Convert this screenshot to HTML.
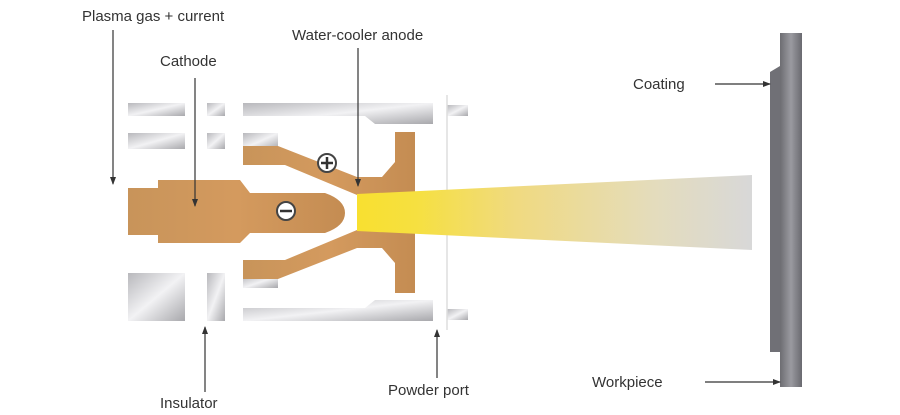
<!DOCTYPE html>
<html><head><style>
body{margin:0;background:#fff;}
svg text{font-family:"Liberation Sans",sans-serif;font-size:15px;fill:#333;}
</style></head><body>
<svg width="900" height="410" viewBox="0 0 900 410">
<defs>
<linearGradient id="met" x1="0" y1="0" x2="1" y2="1">
<stop offset="0" stop-color="#b8b8bc"/><stop offset="0.5" stop-color="#f2f2f4"/><stop offset="1" stop-color="#a8a8ac"/></linearGradient>
<linearGradient id="cu" x1="0" y1="0" x2="1" y2="0">
<stop offset="0" stop-color="#c8945a"/><stop offset="0.5" stop-color="#d49a5e"/><stop offset="1" stop-color="#c48c52"/></linearGradient>
<linearGradient id="pl" x1="0" y1="0" x2="1" y2="0">
<stop offset="0" stop-color="#f8e030"/><stop offset="0.15" stop-color="#f6e040"/><stop offset="0.4" stop-color="#f0da80"/><stop offset="0.75" stop-color="#e4dcbc"/><stop offset="1" stop-color="#d8d8d8"/></linearGradient>
<linearGradient id="wp" x1="0" y1="0" x2="1" y2="0">
<stop offset="0" stop-color="#6d6d72"/><stop offset="0.5" stop-color="#9a9aa0"/><stop offset="1" stop-color="#6a6a70"/></linearGradient>
<marker id="ah" markerWidth="8" markerHeight="8" refX="7" refY="4" orient="auto" markerUnits="userSpaceOnUse"><path d="M0,1 L8,4 L0,7z" fill="#333"/></marker>
</defs>
<g fill="url(#met)">
<rect x="128" y="103" width="57" height="13"/><rect x="207" y="103" width="18" height="13"/>
<path d="M243,103 H433 V124 H375 L365,116 H243z"/>
<rect x="447" y="105" width="21" height="11"/>
<rect x="128" y="133" width="57" height="16"/><rect x="207" y="133" width="18" height="16"/><rect x="243" y="133" width="35" height="16"/>
<rect x="128" y="273" width="57" height="48"/><rect x="207" y="273" width="18" height="48"/><rect x="243" y="276" width="35" height="12"/>
<path d="M243,308 H365 L375,300 H433 V321 H243z"/>
<rect x="447" y="309" width="21" height="11"/>
</g>
<line x1="447" y1="95" x2="447" y2="330" stroke="#ddd" stroke-width="1.5"/>
<g fill="url(#cu)">
<path d="M243,146 H278 L357,177 H382 L395,162 V132 H415 V293 H395 V263 L382,248 H357 L278,279 H243 V260 H285 L357,230 H395 V195 H357 L285,165 H243z"/>
</g>
<path d="M357,194 L752,175 L752,250 L357,231z" fill="url(#pl)"/>
<path d="M128,188 H158 V180 H240 L250,193 H325 Q345,200 345,213 Q345,226 325,233 H250 L240,243 H158 V235 H128z" fill="url(#cu)"/>
<circle cx="327" cy="163" r="9" fill="#fff" stroke="#444" stroke-width="2"/>
<path d="M321,163 H333 M327,157 V169" stroke="#333" stroke-width="2.5"/>
<circle cx="286" cy="211" r="9" fill="#fff" stroke="#444" stroke-width="2"/>
<path d="M280,211 H292" stroke="#333" stroke-width="2.5"/>
<path d="M770,72 L780,66 V352 H770z" fill="#707076"/>
<rect x="780" y="33" width="22" height="354" fill="url(#wp)"/>
<g stroke="#333" stroke-width="1.2" fill="none" marker-end="url(#ah)">
<line x1="113" y1="30" x2="113" y2="184"/>
<line x1="195" y1="78" x2="195" y2="206"/>
<line x1="358" y1="48" x2="358" y2="186"/>
<line x1="205" y1="392" x2="205" y2="327"/>
<line x1="437" y1="378" x2="437" y2="330"/>
<line x1="715" y1="84" x2="770" y2="84"/>
<line x1="705" y1="382" x2="780" y2="382"/>
</g>
<text x="82" y="21">Plasma gas + current</text>
<text x="160" y="66">Cathode</text>
<text x="292" y="40">Water-cooler anode</text>
<text x="633" y="89">Coating</text>
<text x="592" y="387">Workpiece</text>
<text x="160" y="408">Insulator</text>
<text x="388" y="395">Powder port</text>
</svg>
</body></html>
